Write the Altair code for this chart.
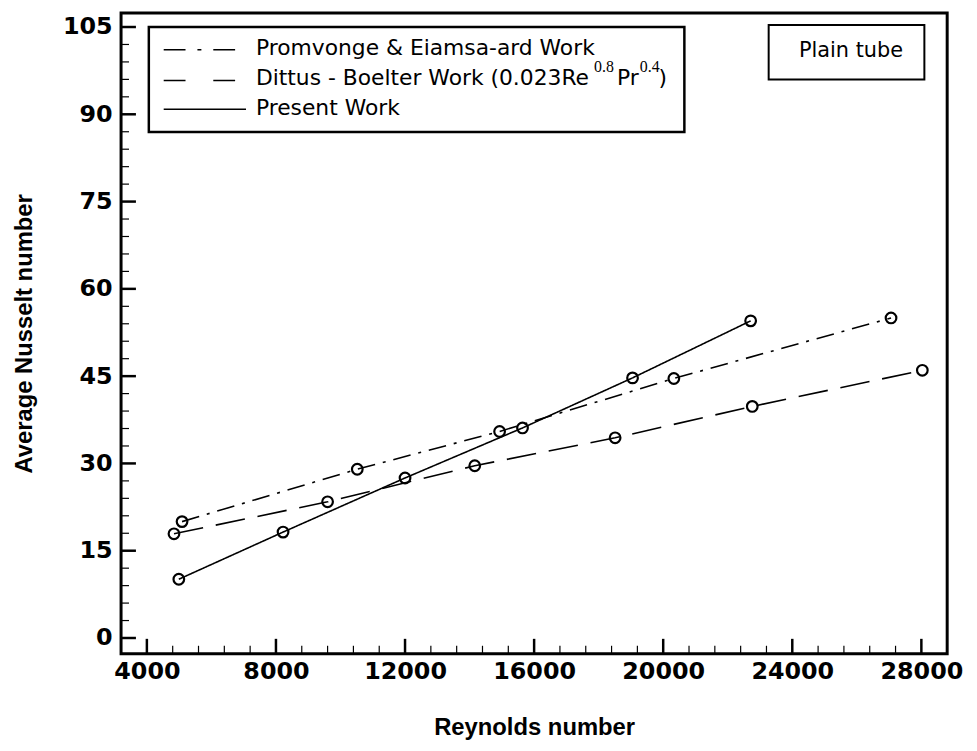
import altair as alt
import pandas as pd

# ---- data ----
re_present = [4990, 8220, 12000, 15640, 19050, 22710]
nu_present = [10.1, 18.2, 27.5, 36.1, 44.7, 54.5]

re_promvonge = [5090, 10520, 14930, 20330, 27060]
nu_promvonge = [20.0, 29.0, 35.5, 44.6, 55.0]

re_dittus = [4840, 9600, 14160, 18510, 22760, 28030]
nu_dittus = [17.9, 23.4, 29.6, 34.4, 39.8, 46.0]

series_names = ["Promvonge & Eiamsa-ard Work", "Dittus - Boelter Work", "Present Work"]

x_major = [4000, 8000, 12000, 16000, 20000, 24000, 28000]
x_minor = [v for v in range(4800, 28000, 800) if v % 4000 != 0]
y_major = [0, 15, 30, 45, 60, 75, 90, 105]
y_minor = [v for v in range(3, 105, 3) if v % 15 != 0]

X_DOMAIN = [3200, 28800]
Y_DOMAIN = [-2.7, 107.4]

W, H = 833, 646

rows = []
for name, xs_, ys_ in [(series_names[0], re_promvonge, nu_promvonge),
                       (series_names[1], re_dittus, nu_dittus),
                       (series_names[2], re_present, nu_present)]:
    for i, (a, b) in enumerate(zip(xs_, ys_)):
        rows.append({"series": name, "re": a, "nu": b, "order": i})
df = pd.DataFrame(rows)

xs = alt.Scale(domain=X_DOMAIN, nice=False, zero=False)
ys = alt.Scale(domain=Y_DOMAIN, nice=False, zero=False)

TICK_FONT = "DejaVu Sans"
TITLE_FONT = "Liberation Sans"

x_enc = alt.X("re:Q", scale=xs, axis=alt.Axis(
    values=x_major, format="d", title="Reynolds number", grid=False, ticks=False, tickSize=0,
    domain=False, labelFont=TICK_FONT, labelFontSize=24, labelFontWeight="bold",
    labelColor="black", labelPadding=6, labelFlush=False,
    titleFont=TITLE_FONT, titleFontSize=24, titleFontWeight="bold", titleColor="black",
    titleY=74, titleBaseline="middle"))
y_enc = alt.Y("nu:Q", scale=ys, axis=alt.Axis(
    values=y_major, title="Average Nusselt number", grid=False, ticks=False, tickSize=0,
    domain=False, labelFont=TICK_FONT, labelFontSize=24, labelFontWeight="bold",
    labelColor="black", labelPadding=9, labelFlush=False,
    titleFont=TITLE_FONT, titleFontSize=24, titleFontWeight="bold", titleColor="black",
    titleX=-97, titleY=H / 2, titleBaseline="middle", titleAlign="center", titleAngle=-90))

dash_scale = alt.Scale(domain=series_names, range=[[18, 8, 3, 8], [30, 13], [1, 0]])

lines = alt.Chart(df).mark_line(color="black", strokeWidth=1.6).encode(
    x=x_enc, y=y_enc, order="order:Q",
    strokeDash=alt.StrokeDash("series:N", scale=dash_scale, legend=None),
    detail="series:N")

points = alt.Chart(df).mark_point(shape="circle", filled=False, color="black",
                                  size=115, strokeWidth=2.2, opacity=1).encode(
    x=alt.X("re:Q", scale=xs), y=alt.Y("nu:Q", scale=ys))

# inward axis ticks
xmaj = alt.Chart(pd.DataFrame({"re": x_major})).mark_rule(color="black", strokeWidth=2.5).encode(
    x=alt.X("re:Q", scale=xs), y=alt.value(H - 15), y2=alt.value(H))
xmin = alt.Chart(pd.DataFrame({"re": x_minor})).mark_rule(color="black", strokeWidth=1.2).encode(
    x=alt.X("re:Q", scale=xs), y=alt.value(H - 8), y2=alt.value(H))
ymaj = alt.Chart(pd.DataFrame({"nu": y_major})).mark_rule(color="black", strokeWidth=2.5).encode(
    y=alt.Y("nu:Q", scale=ys), x=alt.value(0), x2=alt.value(15))
ymin = alt.Chart(pd.DataFrame({"nu": y_minor})).mark_rule(color="black", strokeWidth=1.2).encode(
    y=alt.Y("nu:Q", scale=ys), x=alt.value(0), x2=alt.value(8))

# legend box
leg_box = alt.Chart(pd.DataFrame({"a": [0]})).mark_rect(
    fill="white", stroke="black", strokeWidth=2.5).encode(
    x=alt.value(28), x2=alt.value(568), y=alt.value(14), y2=alt.value(120))

leg_y = [37, 68, 97]
leg_text_y = [35, 66, 96]
sample_dashes = [[22, 12, 4, 12], [22, 28], [1, 0]]
samples = []
for i in range(3):
    samples.append(alt.Chart(pd.DataFrame({"a": [0]})).mark_rule(
        color="black", strokeWidth=1.6, strokeDash=sample_dashes[i]).encode(
        x=alt.value(43), x2=alt.value(126), y=alt.value(leg_y[i])))

LEG_FONT = "DejaVu Sans"
LEG_SIZE = 22
leg_labels = ["Promvonge & Eiamsa-ard Work", "Dittus - Boelter Work (0.023Re", "Present Work"]
texts = []
for i in range(3):
    texts.append(alt.Chart(pd.DataFrame({"t": [leg_labels[i]]})).mark_text(
        font=LEG_FONT, fontSize=LEG_SIZE, align="left", baseline="middle", color="black").encode(
        x=alt.value(136), y=alt.value(leg_text_y[i]), text="t:N"))

sup_parts = [("0.8", 477, "sup"), ("Pr", 500, "main"), ("0.4", 523, "sup"), (")", 542, "main")]
for s, px, kind in sup_parts:
    if kind == "sup":
        texts.append(alt.Chart(pd.DataFrame({"t": [s]})).mark_text(
            font="Liberation Serif", fontSize=16, align="left", baseline="middle", color="black").encode(
            x=alt.value(px), y=alt.value(leg_text_y[1] - 12), text="t:N"))
    else:
        texts.append(alt.Chart(pd.DataFrame({"t": [s]})).mark_text(
            font=LEG_FONT, fontSize=LEG_SIZE, align="left", baseline="middle", color="black").encode(
            x=alt.value(px), y=alt.value(leg_text_y[1]), text="t:N"))

# Plain tube box
pt_box = alt.Chart(pd.DataFrame({"a": [0]})).mark_rect(
    fill="white", stroke="black", strokeWidth=2).encode(
    x=alt.value(653), x2=alt.value(810), y=alt.value(12), y2=alt.value(67))
pt_text = alt.Chart(pd.DataFrame({"t": ["Plain tube"]})).mark_text(
    font=LEG_FONT, fontSize=21, align="center", baseline="middle", color="black").encode(
    x=alt.value(736), y=alt.value(38), text="t:N")

chart = alt.layer(
    lines, points, xmaj, xmin, ymaj, ymin, leg_box, *samples, *texts, pt_box, pt_text
).properties(
    width=W, height=H,
    autosize=alt.AutoSizeParams(type="none"),
    padding={"left": 114, "top": 2, "right": 22, "bottom": 93},
    background="white",
).configure_view(stroke="black", strokeWidth=3)

chart.save("out.html", embed_options={"renderer": "svg", "actions": False})
